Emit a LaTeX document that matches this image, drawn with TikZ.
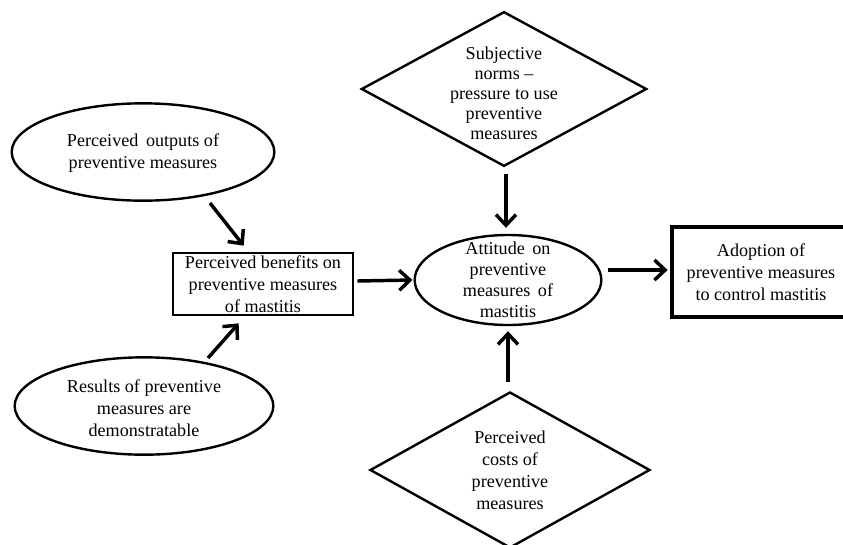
\documentclass[tikz,border=0pt]{standalone}
\usepackage{fontspec}
\setmainfont{Liberation Serif}
\usetikzlibrary{shapes.geometric,arrows.meta,calc}
\begin{document}
\begin{tikzpicture}[x=0.75pt,y=-0.75pt,
  every node/.style={font=\fontsize{13.6pt}{16.5pt}\selectfont},
  oval/.style={ellipse,draw,line width=1.8pt,inner sep=0pt},
  rhomb/.style={diamond,draw,line width=1.8pt,inner sep=0pt},
  boxa/.style={rectangle,draw,line width=2pt,inner sep=0pt,align=center},
  boxb/.style={rectangle,draw,line width=3pt,inner sep=0pt,align=center},
  txt/.style={align=center},
  arr/.style={line width=2.6pt,-{Straight Barb[length=8pt,width=15pt,line width=2.6pt]}}]
\clip (0,0) rectangle (843,544);
\useasboundingbox (0,0) rectangle (843,544);
\fill[white] (0,0) rectangle (843,544);
% nodes
\node[oval,minimum width=197pt,minimum height=73pt,
  label={[txt,yshift=-1pt]center:Perceived\, outputs of\\preventive measures}] (outE) at (143,152) {};
\node[oval,minimum width=194pt,minimum height=73pt,
  label={[txt,yshift=-2pt]center:Results of preventive\\measures are\\demonstratable}] (resE) at (144,406) {};
\node[boxa,minimum width=135pt,minimum height=46.5pt] (benR) at (263,284)
  {Perceived benefits on\\preventive measures\\of mastitis};
\node[oval,minimum width=140pt,minimum height=67.5pt,
  label={[txt,font=\fontsize{13.6pt}{15.8pt}\selectfont]center:Attitude\, on\\preventive\\measures\, of\\mastitis}] (attE) at (508,280) {};
\node[rhomb,minimum width=214pt,minimum height=116pt,
  label={[txt,font=\fontsize{13.6pt}{15pt}\selectfont,yshift=-3pt]center:Subjective\\norms --\\pressure to use\\preventive\\measures}] (topD) at (504,89) {};
\node[rhomb,minimum width=210pt,minimum height=117pt,
  label={[txt,font=\fontsize{13.6pt}{16.5pt}\selectfont]center:Perceived\\costs of\\preventive\\measures}] (botD) at (510,470) {};
\node[boxb,minimum width=134pt,minimum height=67.5pt] (adoR) at (761,272)
  {Adoption of\\preventive measures\\to control mastitis};
% connectors
\draw[arr] ($(outE.center)+(67,51)$) -- ($(benR.north west)+(72,-6)$);
\draw[arr] ($(resE.center)+(64,-48)$) -- ($(benR.south west)+(67,7)$);
\draw[arr] ($(benR.east)+(3,-3)$) -- ($(attE.west)+(-1,0)$);
\draw[arr] ($(topD.south)+(2,6)$) -- ($(attE.north)+(-2,-6)$);
\draw[arr] ($(botD.north)+(-2,-9)$) -- ($(attE.south)+(0,5)$);
\draw[arr] ($(attE.east)+(5,-10)$) -- ($(adoR.west)+(-2,-2)$);
\end{tikzpicture}
\end{document}
